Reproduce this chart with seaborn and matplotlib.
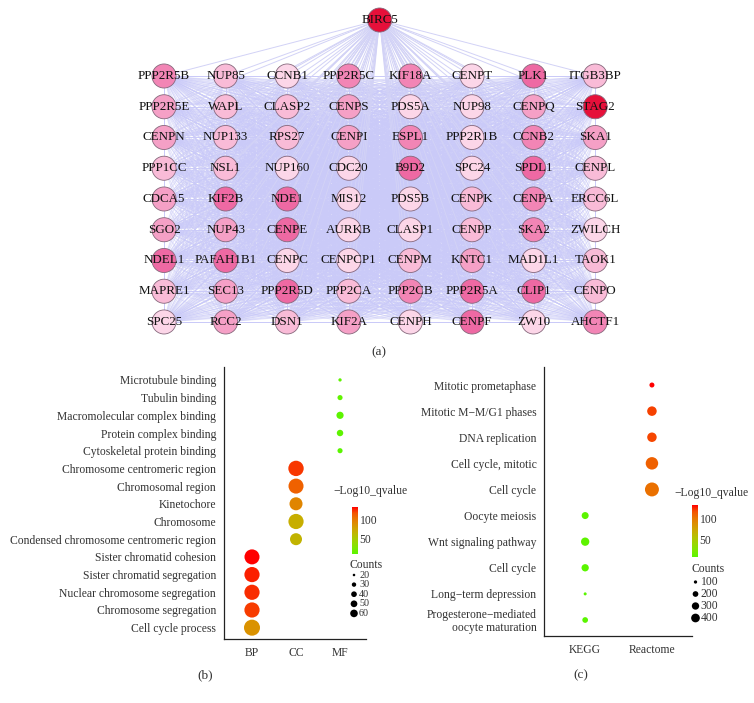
import itertools
import pandas as pd
import seaborn as sns
import matplotlib.pyplot as plt
from matplotlib.colors import LinearSegmentedColormap, Normalize
from matplotlib.collections import LineCollection
from matplotlib.cm import ScalarMappable

# (a) PPI network: hub gene on top, other genes on an 8-column grid
hub = "BIRC5"
hub_level = 8
genes = [
    "PPP2R5B", "NUP85", "CCNB1", "PPP2R5C", "KIF18A", "CENPT", "PLK1", "ITGB3BP",
    "PPP2R5E", "WAPL", "CLASP2", "CENPS", "PDS5A", "NUP98", "CENPQ", "STAG2",
    "CENPN", "NUP133", "RPS27", "CENPI", "ESPL1", "PPP2R1B", "CCNB2", "SKA1",
    "PPP1CC", "NSL1", "NUP160", "CDC20", "B9D2", "SPC24", "SPDL1", "CENPL",
    "CDCA5", "KIF2B", "NDE1", "MIS12", "PDS5B", "CENPK", "CENPA", "ERCC6L",
    "SGO2", "NUP43", "CENPE", "AURKB", "CLASP1", "CENPP", "SKA2", "ZWILCH",
    "NDEL1", "PAFAH1B1", "CENPC", "CENPCP1", "CENPM", "KNTC1", "MAD1L1", "TAOK1",
    "MAPRE1", "SEC13", "PPP2R5D", "PPP2CA", "PPP2CB", "PPP2R5A", "CLIP1", "CENPO",
    "SPC25", "RCC2", "DSN1", "KIF2A", "CENPH", "CENPF", "ZW10", "AHCTF1",
]
levels = [
    4, 2, 1, 4, 4, 1, 5, 2,
    3, 2, 2, 3, 1, 1, 3, 8,
    3, 2, 2, 3, 4, 1, 4, 3,
    2, 2, 1, 1, 5, 1, 5, 2,
    3, 5, 5, 1, 1, 2, 4, 2,
    3, 3, 5, 1, 1, 2, 4, 1,
    5, 5, 1, 1, 2, 3, 1, 2,
    2, 3, 5, 2, 4, 5, 5, 2,
    1, 3, 2, 3, 1, 5, 1, 4,
]
n_cols = 8

# (b) GO enrichment, top to bottom
go_terms = [
    "Microtubule binding", "Tubulin binding", "Macromolecular complex binding",
    "Protein complex binding", "Cytoskeletal protein binding",
    "Chromosome centromeric region", "Chromosomal region", "Kinetochore",
    "Chromosome", "Condensed chromosome centromeric region",
    "Sister chromatid cohesion", "Sister chromatid segregation",
    "Nuclear chromosome segregation", "Chromosome segregation", "Cell cycle process",
]
go_class = ["MF"] * 5 + ["CC"] * 5 + ["BP"] * 5
go_counts = [17, 20, 25, 23, 20, 61, 59, 48, 60, 43, 59, 60, 60, 60, 65]
go_q = [14, 15, 13, 14, 12, 121, 110, 93, 70, 66, 131, 125, 123, 120, 86]
go_classes = ["BP", "CC", "MF"]
go_legend = [20, 30, 40, 50, 60]

# (c) pathway enrichment, top to bottom
pw_terms = [
    "Mitotic prometaphase", "Mitotic M\u2212M/G1 phases", "DNA replication",
    "Cell cycle, mitotic", "Cell cycle", "Oocyte meiosis", "Wnt signaling pathway",
    "Cell cycle", "Long\u2212term depression",
    "Progesterone\u2212mediated\noocyte maturation",
]
pw_db = ["Reactome"] * 5 + ["KEGG"] * 5
pw_counts = [166, 470, 465, 770, 950, 277, 370, 296, 92, 200]
pw_q = [131, 119, 118, 110, 103, 10, 11, 9, 9, 9]
pw_dbs = ["KEGG", "Reactome"]
pw_legend = [100, 200, 300, 400]

sns.set_style("white")
plt.rcParams["font.family"] = ["Liberation Serif", "DejaVu Serif"]
dark = "#333333"
fs = 8.4

W, H = 754, 703
fig = plt.figure(figsize=(W / 100, H / 100), dpi=100)


def box(x0, y0, x1, y1):
    return [x0 / W, 1 - y1 / H, (x1 - x0) / W, (y1 - y0) / H]


grad = LinearSegmentedColormap.from_list("q", [
    "#5AF500", "#7DE800", "#98D700", "#B3C200", "#C9AB00",
    "#DA9200", "#E87600", "#F45300", "#FF0000"])
pink = LinearSegmentedColormap.from_list(
    "deg", [(0, "#fcd6e8"), (0.57, "#ee6aa4"), (1, "#e6103a")])

# ---------- (a) network ----------
ax_a = fig.add_axes(box(102.4, 2.2, 656.8, 368.1))
nodes = pd.DataFrame({
    "gene": genes + [hub],
    "col": [i % n_cols for i in range(len(genes))] + [(n_cols - 1) / 2],
    "row": [i // n_cols for i in range(len(genes))] + [-1.82],
    "level": levels + [hub_level],
})
pts = list(zip(nodes["col"], nodes["row"]))
grid_pts = pts[:-1]
ax_a.add_collection(LineCollection(
    [[a, b] for a, b in itertools.combinations(grid_pts, 2)],
    colors="#cacaf8", linewidths=0.7, alpha=0.55, zorder=1))
ax_a.add_collection(LineCollection(
    [[pts[-1], p] for p in grid_pts],
    colors="#d2d2f6", linewidths=0.7, zorder=1))
sns.scatterplot(data=nodes, x="col", y="row", hue="level", palette=pink,
                hue_norm=(1, 8), s=300, edgecolor="#86687c", linewidth=0.6,
                legend=False, ax=ax_a, zorder=3, clip_on=False)
for g, c, r in zip(nodes["gene"], nodes["col"], nodes["row"]):
    ax_a.text(c, r, g, ha="center", va="center", fontsize=9.4,
              color="#111111", zorder=4)
ax_a.set_xlim(-1, 8)
ax_a.set_ylim(9.5, -2.4)
ax_a.axis("off")


def area_b(v):
    return 5.6 + 2.654 * (v - 17)


def area_c(v):
    return 5.6 + 0.112 * (v - 100)


def style_axes(ax):
    sns.despine(ax=ax)
    for s in ("left", "bottom"):
        ax.spines[s].set_color("#222222")
        ax.spines[s].set_linewidth(0.9)
    ax.tick_params(length=3.5, width=0.8, color=dark, labelsize=fs,
                   labelcolor=dark, pad=2.2)
    ax.set_xlabel("")
    ax.set_ylabel("")


# ---------- (b) GO ----------
ax_b = fig.add_axes(box(224, 367, 366, 639))
df_b = pd.DataFrame({
    "x": [go_classes.index(c) for c in go_class],
    "y": [len(go_terms) - 1 - i for i in range(len(go_terms))],
    "count": go_counts, "q": go_q,
})
sns.scatterplot(data=df_b, x="x", y="y", hue="q", palette=grad, hue_norm=(12, 131),
                size="count", sizes=(area_b(min(go_counts)), area_b(max(go_counts))),
                size_norm=(min(go_counts), max(go_counts)), linewidth=0,
                legend=False, ax=ax_b, clip_on=False)
ax_b.set_xlim(-0.636, 2.59)
ax_b.set_ylim(-0.64, 14.73)
ax_b.set_xticks(range(len(go_classes)), go_classes)
ax_b.set_yticks(range(len(go_terms)), go_terms[::-1])
style_axes(ax_b)

# ---------- (c) pathways ----------
ax_c = fig.add_axes(box(544.3, 367, 692, 636))
df_c = pd.DataFrame({
    "x": [pw_dbs.index(d) for d in pw_db],
    "y": [len(pw_terms) - 1 - i for i in range(len(pw_terms))],
    "count": pw_counts, "q": pw_q,
})
sns.scatterplot(data=df_c, x="x", y="y", hue="q", palette=grad, hue_norm=(9, 131),
                size="count", sizes=(area_c(min(pw_counts)), area_c(max(pw_counts))),
                size_norm=(min(pw_counts), max(pw_counts)), linewidth=0,
                legend=False, ax=ax_c, clip_on=False)
ax_c.set_xlim(-0.612, 1.6)
ax_c.set_ylim(-0.613, 9.69)
ax_c.set_xticks(range(len(pw_dbs)), pw_dbs)
ax_c.set_yticks(range(len(pw_terms)), pw_terms[::-1])
style_axes(ax_c)
for t in ax_c.get_yticklabels():
    t.set_linespacing(1.1)

# ---------- colour bars ----------
for rect, lims, title_xy in [((352, 507, 357.5, 554), (12, 131), (333, 491)),
                             ((691.5, 505, 697.5, 557), (9, 131), (674, 493))]:
    cax = fig.add_axes(box(*rect))
    cb = fig.colorbar(ScalarMappable(Normalize(*lims), grad), cax=cax)
    cb.outline.set_visible(False)
    cb.set_ticks([50, 100])
    cax.tick_params(axis="y", which="both", direction="in", length=1.6, width=0.8,
                    color="white", left=True, right=True, labelleft=False,
                    labelright=True, labelsize=fs, labelcolor=dark, pad=1.5)
    fig.text(title_xy[0] / W, 1 - title_xy[1] / H, "\u2212Log10_qvalue",
             ha="left", va="center", fontsize=fs, color=dark)

# ---------- size legends and panel letters ----------
ov = fig.add_axes([0, 0, 1, 1], zorder=5)
for vals, area, shrink, x0, y0, step, lab_fs, title_xy in [
        (go_legend, area_b, 0.25, 354, 575, 9.6, 7.3, (350, 565)),
        (pw_legend, area_c, 1.0, 695.5, 582, 12, fs, (691, 569))]:
    ys = [y0 + step * i for i in range(len(vals))]
    sns.scatterplot(x=[x0] * len(vals), y=ys, size=vals,
                    sizes=(shrink * area(vals[0]), shrink * area(vals[-1])),
                    size_norm=(vals[0], vals[-1]), color="black", linewidth=0,
                    legend=False, ax=ov)
    for v, y in zip(vals, ys):
        ov.text(x0 + 5, y, str(v), ha="left", va="center", fontsize=lab_fs,
                color=dark)
    ov.text(title_xy[0], title_xy[1], "Counts", ha="left", va="center",
            fontsize=fs, color=dark)
for lab, x, y in [("(a)", 379, 352), ("(b)", 205, 675), ("(c)", 581, 675)]:
    ov.text(x, y, lab, ha="center", va="center", fontsize=9.5, color=dark)
ov.set_xlim(0, W)
ov.set_ylim(H, 0)
ov.axis("off")

fig.savefig("out.png", dpi=100)
